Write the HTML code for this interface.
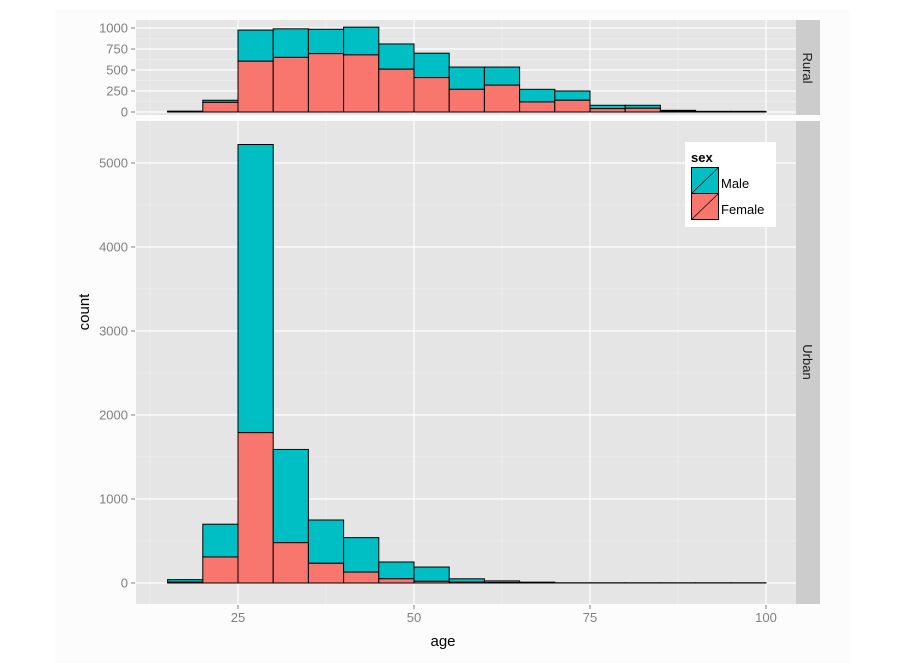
<!DOCTYPE html>
<html><head><style>
html,body{margin:0;padding:0;background:#fff;}
svg{display:block;font-family:"Liberation Sans",sans-serif;}
</style></head><body>
<svg id="s" width="900" height="663" xmlns="http://www.w3.org/2000/svg">
<rect x="0" y="0" width="900" height="663" fill="#fff"/>
<rect x="55" y="10" width="795" height="653" fill="#fcfcfc"/>
<g id="g"></g>
<rect x="796" y="20" width="24" height="95" fill="#cccccc"/>
<rect x="796" y="121" width="24" height="483" fill="#cccccc"/>
<text transform="translate(803,68) rotate(90)" font-size="13" text-anchor="middle" fill="#1a1a1a">Rural</text>
<text transform="translate(803,362) rotate(90)" font-size="13" text-anchor="middle" fill="#1a1a1a">Urban</text>
<text x="443" y="646" font-size="15" text-anchor="middle" fill="#000">age</text>
<text transform="translate(89,312) rotate(-90)" font-size="15" text-anchor="middle" fill="#000">count</text>
<g>
<rect x="685" y="142" width="91" height="85" fill="#fff"/>
<text x="691" y="162" font-size="13" font-weight="bold">sex</text>
<rect x="691.5" y="167.5" width="27" height="26" fill="#00bfc4" stroke="#000"/>
<line x1="691.5" y1="193.5" x2="718.5" y2="167.5" stroke="#000" stroke-width="0.7"/>
<rect x="691.5" y="193.5" width="27" height="26" fill="#f8766d" stroke="#000"/>
<line x1="691.5" y1="219.5" x2="718.5" y2="193.5" stroke="#000" stroke-width="0.7"/>
<text x="721" y="188" font-size="13">Male</text>
<text x="721" y="214" font-size="13">Female</text>
</g>
</svg>
<script>
var g=document.getElementById('g'),h='';
function X(a){return 238+(a-25)*7.04;}
function panel(top,bot,y0,k,maj,mn,labels,total,fem){
 h+='<rect x="136" y="'+top+'" width="660" height="'+(bot-top)+'" fill="#e5e5e5"/>';
 [12.5,37.5,62.5,87.5].forEach(function(a){h+='<line x1="'+X(a)+'" x2="'+X(a)+'" y1="'+top+'" y2="'+bot+'" stroke="#f2f2f2" stroke-width="0.6"/>';});
 mn.forEach(function(v){var y=y0-v*k;h+='<line x1="136" x2="796" y1="'+y+'" y2="'+y+'" stroke="#f2f2f2" stroke-width="0.6"/>';});
 [25,50,75,100].forEach(function(a){h+='<line x1="'+X(a)+'" x2="'+X(a)+'" y1="'+top+'" y2="'+bot+'" stroke="#fff" stroke-width="1.2"/>';});
 maj.forEach(function(v){var y=y0-v*k;h+='<line x1="136" x2="796" y1="'+y+'" y2="'+y+'" stroke="#fff" stroke-width="1.2"/>';
  h+='<line x1="131" x2="135" y1="'+y+'" y2="'+y+'" stroke="#7f7f7f"/>';
  h+='<text x="128" y="'+(y+4.5)+'" font-size="13" text-anchor="end" fill="#7f7f7f">'+v+'</text>';});
 for(var i=0;i<total.length;i++){var a=15+5*i,x=X(a),w=X(a+5)-x,t=total[i],f=fem[i];
  var yt=y0-t*k,yf=y0-f*k;
  h+='<rect x="'+x+'" y="'+yt+'" width="'+w+'" height="'+(yf-yt)+'" fill="#00bfc4" stroke="#000" stroke-width="1"/>';
  h+='<rect x="'+x+'" y="'+yf+'" width="'+w+'" height="'+(y0-yf)+'" fill="#f8766d" stroke="#000" stroke-width="1"/>';}
}
panel(20,115,112,0.084,[0,250,500,750,1000],[125,375,625,875],0,
 [10,140,975,990,985,1010,810,700,535,535,270,250,80,80,20,8,8],
 [5,115,605,650,695,680,510,410,270,320,120,140,40,45,10,4,4]);
panel(121,604,583,0.084,[0,1000,2000,3000,4000,5000],[500,1500,2500,3500,4500],0,
 [40,700,5220,1590,750,540,250,190,50,25,10,2,2,2,2,2,2],
 [10,310,1790,480,235,130,50,20,10,5,3,1,1,1,1,1,1]);
[25,50,75,100].forEach(function(a){h+='<line x1="'+X(a)+'" x2="'+X(a)+'" y1="605" y2="609" stroke="#7f7f7f"/>';
 h+='<text x="'+X(a)+'" y="622" font-size="13" text-anchor="middle" fill="#7f7f7f">'+a+'</text>';});
g.innerHTML=h;
</script>
</body></html>
